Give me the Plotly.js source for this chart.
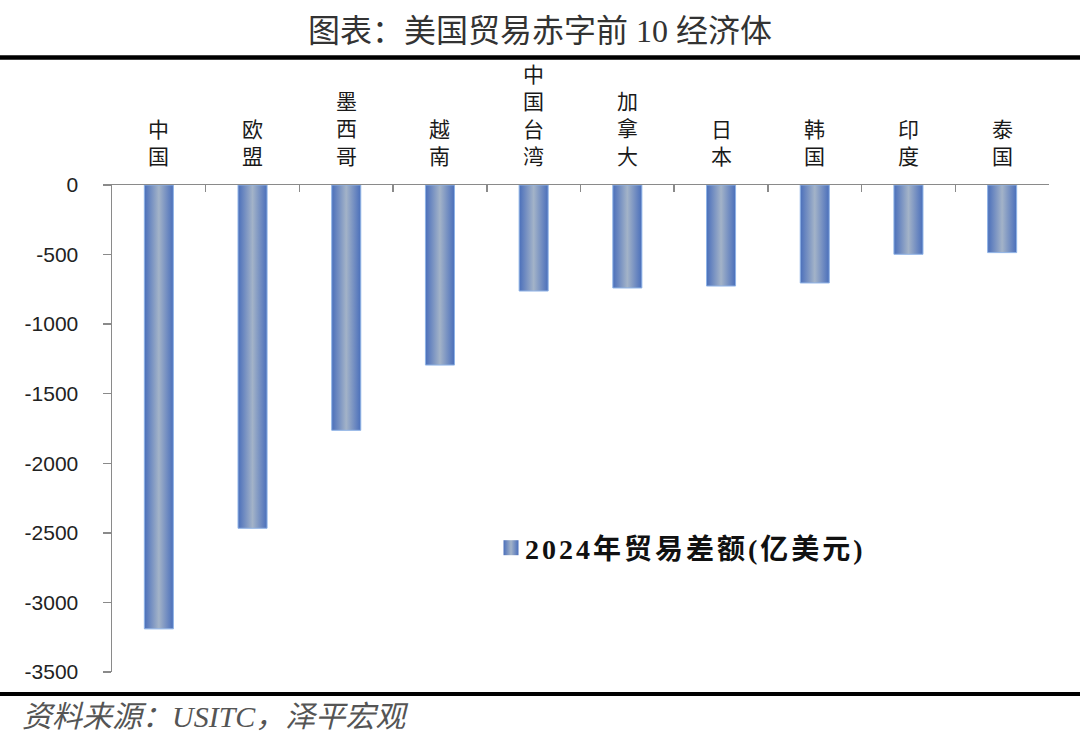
<!DOCTYPE html>
<html>
<head>
<meta charset="utf-8">
<script src="https://cdn.plot.ly/plotly-3.0.1.min.js"></script>
<style>
  html, body { margin: 0; padding: 0; background: #fff; }
  #chart { width: 1080px; height: 736px; }
</style>
</head>
<body>
<div id="chart"></div>
<script>
// US trade balance with its ten largest deficit partners, 2024 (100 million USD)
const economies = ['中国', '欧盟', '墨西哥', '越南', '中国台湾', '加拿大', '日本', '韩国', '印度', '泰国'];
const balance2024 = [-3190, -2467, -1763, -1294, -762, -740, -726, -704, -498, -486];
const seriesName = '2024年贸易差额(亿美元)';
const chartTitle = '图表：美国贸易赤字前 10 经济体';
const sourceNote = '资料来源：USITC，泽平宏观';
const yTickValues = [0, -500, -1000, -1500, -2000, -2500, -3000, -3500];

// page geometry in pixels, used to place the text and rules outside the plot area
const W = 1080, H = 736;
const M = { l: 112, r: 31, t: 185, b: 64 };
const px2x = px => (px - M.l) / (W - M.l - M.r);
const px2y = py => (H - M.b - py) / (H - M.t - M.b);

const CJK = '"Noto Sans CJK SC", sans-serif';
const SERIF_CJK = '"Liberation Serif", "Noto Sans CJK SC", serif';

const trace = {
  type: 'bar',
  name: seriesName,
  x: economies,
  y: balance2024,
  width: 0.31,
  marker: { color: '#7a93c2', line: { color: '#8fb3e6', width: 1 } },
  hoverinfo: 'x+y'
};

// vertical category names stacked above the zero line
const categoryNotes = economies.map(name => ({
  x: name, xref: 'x',
  y: 0, yref: 'y',
  yanchor: 'bottom', xanchor: 'center',
  yshift: 13,
  showarrow: false,
  text: name.split('').join('<br>'),
  font: { family: CJK, size: 21, color: '#1a1a1a' }
}));

const layout = {
  width: W, height: H,
  margin: M,
  paper_bgcolor: '#fff',
  plot_bgcolor: '#fff',
  title: {
    text: chartTitle,
    xref: 'container', x: 0.5, xanchor: 'center',
    yref: 'container', y: 1 - 31 / H, yanchor: 'middle',
    font: { family: SERIF_CJK, size: 32, color: '#333' }
  },
  xaxis: {
    type: 'category',
    side: 'top',
    range: [-0.5, economies.length - 0.5],
    showline: true, linecolor: '#8a8a8a', linewidth: 1.5,
    ticks: 'inside', tickson: 'boundaries', ticklen: 7, tickwidth: 1.5, tickcolor: '#8a8a8a',
    showticklabels: false,
    showgrid: false, zeroline: false,
    fixedrange: true
  },
  yaxis: {
    range: [-3500, 0],
    tickmode: 'array', tickvals: yTickValues,
    ticktext: yTickValues.map(String),
    ticks: 'outside', ticklen: 8, tickwidth: 1.5, tickcolor: '#8a8a8a',
    ticklabelstandoff: 20,
    showline: true, linecolor: '#8a8a8a', linewidth: 1.5,
    showgrid: false, zeroline: false,
    tickfont: { family: '"Liberation Sans", Arial, sans-serif', size: 21, color: '#222' },
    fixedrange: true
  },
  showlegend: true,
  legend: {
    x: px2x(485), xanchor: 'left',
    y: px2y(548), yanchor: 'middle',
    bgcolor: 'rgba(0,0,0,0)',
    itemwidth: 30,
    font: { family: SERIF_CJK, size: 28, color: '#111', weight: 'bold' }
  },
  annotations: [
    ...categoryNotes,
    {
      xref: 'paper', x: px2x(20), xanchor: 'left',
      yref: 'paper', y: px2y(716), yanchor: 'middle',
      showarrow: false,
      text: '<i>' + sourceNote + '</i>',
      font: { family: SERIF_CJK, size: 30, color: '#555' }
    }
  ],
  shapes: [
    { type: 'line', xref: 'paper', yref: 'paper', x0: px2x(0), x1: px2x(W), y0: px2y(57.5), y1: px2y(57.5),
      line: { color: '#000', width: 4.5 } },
    { type: 'line', xref: 'paper', yref: 'paper', x0: px2x(0), x1: px2x(W), y0: px2y(694), y1: px2y(694),
      line: { color: '#000', width: 4 } }
  ]
};

Plotly.newPlot('chart', [trace], layout, { displayModeBar: false, staticPlot: true }).then(gd => {
  // horizontal shading across each bar: darker blue edges, lighter grey-blue centre
  const svgNS = 'http://www.w3.org/2000/svg';
  const svg = gd.querySelector('svg.main-svg');
  let defs = svg.querySelector('defs');
  if (!defs) { defs = document.createElementNS(svgNS, 'defs'); svg.insertBefore(defs, svg.firstChild); }
  const grad = document.createElementNS(svgNS, 'linearGradient');
  grad.setAttribute('id', 'barShade');
  grad.setAttribute('x1', '0'); grad.setAttribute('y1', '0');
  grad.setAttribute('x2', '1'); grad.setAttribute('y2', '0');
  [['0', '#4a6fba'], ['0.18', '#6a87c0'], ['0.5', '#a3b3c8'], ['0.82', '#6a87c0'], ['1', '#4a6fba']].forEach(([o, c]) => {
    const s = document.createElementNS(svgNS, 'stop');
    s.setAttribute('offset', o);
    s.setAttribute('stop-color', c);
    grad.appendChild(s);
  });
  defs.appendChild(grad);
  gd.querySelectorAll('.barlayer .point path').forEach(p => {
    p.style.fill = 'url(#barShade)';
  });
  // legend key: a shaded square sitting just left of the label
  gd.querySelectorAll('.legendpoints path').forEach(p => {
    p.setAttribute('d', 'M7.5,7.5H-7.5V-7.5H7.5Z');
    p.setAttribute('transform', 'translate(26,0)');
    p.style.fill = 'url(#barShade)';
    p.style.stroke = 'none';
  });
  // wider label tracking; let the widened label extend past the legend box
  gd.querySelectorAll('.legendtext').forEach(t => {
    t.style.letterSpacing = '3px';
  });
  gd.querySelectorAll('.legend [clip-path]').forEach(e => e.removeAttribute('clip-path'));
});
</script>
</body>
</html>
